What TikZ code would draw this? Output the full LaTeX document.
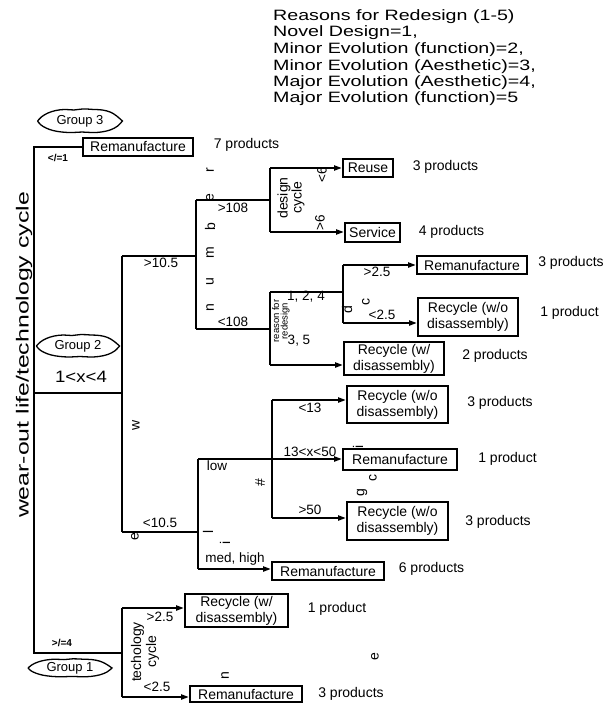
\documentclass[tikz,border=0pt]{standalone}
\usepackage{fontspec}
\setmainfont{Liberation Sans}
\usepackage{graphicx}
\usetikzlibrary{arrows.meta}
\newcommand\fsz[2]{\fontsize{#1}{#2}\selectfont}
\newcommand\wide[1]{\scalebox{1.31}[1]{#1}}
\newcommand\lemon[3]{\draw[line width=1.3pt,shift={(#1)},xscale=#2,yscale=#3]
  plot[smooth,tension=0.6] coordinates {(-42,0) (-38,-4) (-32,-7.5) (-24,-10) (-15,-11) (-6,-10.5) (3,-11.5) (13,-11) (22,-10.5) (30,-8.5) (36,-5) (42,0)}
  -- plot[smooth,tension=0.6] coordinates {(42,0) (37,5) (30,8.5) (21,10.5) (12,11) (2,10.5) (-8,11) (-18,10.5) (-27,9) (-34,6.5) (-39,3.5) (-42,0)};}
\begin{document}
\begin{tikzpicture}[x=1pt,y=-1pt,
  ln/.style={line width=2pt},
  arr/.style={line width=2pt,-{Triangle[length=8pt,width=5pt]}},
  box/.style={draw,line width=1.9pt,inner sep=0pt,font=\fsz{14}{16},align=center},
  lbl/.style={inner sep=0pt,font=\fsz{13.5}{15}},
  cnt/.style={inner sep=0pt,font=\fsz{14}{16}},
  bold/.style={inner sep=0pt,font=\fsz{10}{12}\bfseries},
  letter/.style={inner sep=0pt,rotate=90,font=\fsz{14}{16}},
  leg/.style={inner sep=0pt,anchor=base west,font=\fsz{15}{17}},
  grp/.style={inner sep=0pt,font=\fsz{13}{15},minimum width=84pt,minimum height=22pt}
]
\useasboundingbox (0,0) rectangle (605,704);

% legend
\node[leg] (l1) at (273,20) {\wide{Reasons for Redesign (1-5)}};
\node[leg] (l2) at (273,36) {\wide{Novel Design=1,}};
\node[leg] (l3) at (273,53) {\wide{Minor Evolution (function)=2,}};
\node[leg] (l4) at (273,70) {\wide{Minor Evolution (Aesthetic)=3,}};
\node[leg] (l5) at (273,86) {\wide{Major Evolution (Aesthetic)=4,}};
\node[leg] (l6) at (273,102) {\wide{Major Evolution (function)=5}};

% side label
\node[inner sep=0pt,rotate=90,font=\fsz{17.5}{20}] (side) at (24,355) {\scalebox{1.42}[1]{wear-out life/technology cycle}};

% groups
\node[grp] (g3) at (80,121) {Group 3};
\lemon{g3}{1.01}{1.05}
\node[grp] (g2) at (78,346) {Group 2};
\lemon{g2}{0.99}{1}
\node[grp] (g1) at (70,668) {Group 1};
\lemon{g1}{1}{0.8}
\node[inner sep=0pt,font=\fsz{16.5}{18}] (gx) at (81,377) {\scalebox{1.13}[1]{1<x<4}};

% boxes
\node[box,minimum width=110pt,minimum height=18pt] (rTop) at (138,147) {Remanufacture};
\node[box,minimum width=50pt,minimum height=18pt] (reuse) at (368,168) {Reuse};
\node[box,minimum width=55pt,minimum height=19pt] (service) at (372.5,232.5) {Service};
\node[box,minimum width=110pt,minimum height=18pt] (rem2) at (472,265) {Remanufacture};
\node[box,minimum width=100pt,minimum height=38pt] (recwo1) at (468,317) {Recycle (w/o\\disassembly)};
\node[box,minimum width=100pt,minimum height=33pt] (recw1) at (394,358.5) {Recycle (w/\\disassembly)};
\node[box,minimum width=101pt,minimum height=37pt] (recwo2) at (397.5,404.5) {Recycle (w/o\\disassembly)};
\node[box,minimum width=114pt,minimum height=21pt] (rem3) at (400,459.5) {Remanufacture};
\node[box,minimum width=101pt,minimum height=38pt] (recwo3) at (397.5,521) {Recycle (w/o\\disassembly)};
\node[box,minimum width=112pt,minimum height=18pt] (rem4) at (328,571) {Remanufacture};
\node[box,minimum width=103pt,minimum height=33pt] (recw2) at (236.5,610.5) {Recycle (w/\\disassembly)};
\node[box,minimum width=112pt,minimum height=16pt] (rem5) at (246,694) {Remanufacture};

% counts
\node[cnt] (c1) at (246.5,145) {7 products};
\node[cnt] (c2) at (445.5,167) {3 products};
\node[cnt] (c3) at (451.5,232) {4 products};
\node[cnt] (c4) at (571,263) {3 products};
\node[cnt] (c5) at (569.5,313) {1 product};
\node[cnt] (c6) at (495,356) {2 products};
\node[cnt] (c7) at (500,403) {3 products};
\node[cnt] (c8) at (507.5,459) {1 product};
\node[cnt] (c9) at (498,522) {3 products};
\node[cnt] (c10) at (431.5,569) {6 products};
\node[cnt] (c11) at (337,609) {1 product};
\node[cnt] (c12) at (351,694) {3 products};

% junction coordinates
\coordinate (r1) at (34,147);
\coordinate (r2) at (34,393);
\coordinate (r3) at (34,653);
\coordinate (a1) at (122,256);
\coordinate (a2) at (122,393);
\coordinate (a3) at (122,532);
\coordinate (b2) at (196,200);
\coordinate (b1) at (196,256);
\coordinate (b3) at (196,329);
\coordinate (d2) at (270,168);
\coordinate (d1) at (270,200);
\coordinate (d3) at (270,232);
\coordinate (e2) at (270,292);
\coordinate (e1) at (270,329);
\coordinate (e3) at (270,365);
\coordinate (f2) at (343,265);
\coordinate (f1) at (343,292);
\coordinate (f3) at (343,323);
\coordinate (h0) at (198,459);
\coordinate (h1) at (198,532);
\coordinate (h3) at (198,569);
\coordinate (k1) at (272,400);
\coordinate (k2) at (272,518);
\coordinate (m0) at (122,653);
\coordinate (m1) at (122,608);
\coordinate (m2) at (122,697);

% connectors
\draw[ln] (rTop.west) -- (r1) -- (r3) -- (m0);
\draw[ln] (r2) -- (a2);
\draw[ln] (a1) -- (a3);
\draw[ln] (a1) -- (b1);
\draw[ln] (b2) -- (b3);
\draw[ln] (b2) -- (d1);
\draw[ln] (d2) -- (d3);
\draw[arr] (d2) -- (d2 -| reuse.west);
\draw[arr] (d3) -- (d3 -| service.west);
\draw[ln] (b3) -- (e1);
\draw[ln] (e2) -- (e3);
\draw[ln] (e2) -- (f1);
\draw[ln] (f2) -- (f3);
\draw[arr] (f2) -- (f2 -| rem2.west);
\draw[arr] (f3) -- (f3 -| recwo1.west);
\draw[arr] (e3) -- (e3 -| recw1.west);
\draw[ln] (a3) -- (h1);
\draw[ln] (h0) -- (h3);
\draw[arr] (h0) -- (h0 -| rem3.west);
\draw[arr] (h3) -- (h3 -| rem4.west);
\draw[ln] (k1) -- (k2);
\draw[arr] (k1) -- (k1 -| recwo2.west);
\draw[arr] (k2) -- (k2 -| recwo3.west);
\draw[ln] (m1) -- (m2);
\draw[arr] (m1) -- (m1 -| recw2.west);
\draw[arr] (m2) -- (m2 -| rem5.west);

% branch labels
\node[bold] (t1) at (58,158) {</=1};
\node[bold] (t2) at (62,643) {>/=4};
\node[lbl] (t3) at (161,263) {>10.5};
\node[lbl] (t4) at (160,523) {<10.5};
\node[lbl] (t5) at (233,208) {>108};
\node[lbl] (t6) at (233,322) {<108};
\node[lbl,rotate=90] (t7) at (322,175) {<6};
\node[lbl,rotate=90] (t8) at (320,223) {>6};
\node[inner sep=0pt,rotate=90,align=center,font=\fsz{14}{12.5}] (t9) at (291,198) {design\\cycle};
\node[lbl] (t10) at (377,272) {>2.5};
\node[lbl] (t11) at (382,315) {<2.5};
\node[lbl] (t12) at (306,297) {1, 2, 4};
\node[lbl] (t13) at (299,341) {3, 5};
\node[inner sep=0pt,rotate=90,align=center,font=\fsz{9.5}{8.5}] (t14) at (281,321) {reason for\\redesign};
\node[lbl] (t15) at (310,408) {<13};
\node[lbl] (t16) at (310,452) {13<x<50};
\node[lbl] (t17) at (310,510) {>50};
\node[lbl] (t18) at (217,466) {low};
\node[lbl] (t19) at (235,559) {med, high};
\node[lbl] (t20) at (160,617) {>2.5};
\node[lbl] (t21) at (157,687) {<2.5};
\node[inner sep=0pt,rotate=90,align=center,font=\fsz{14}{15}] (t22) at (145,652) {techology\\cycle};

% scattered letters
\node[letter] (n1) at (210,308) {n};
\node[letter] (n2) at (210,282) {u};
\node[letter] (n3) at (210,253) {m};
\node[letter] (n4) at (210,227) {b};
\node[letter] (n5) at (210,198) {e};
\node[letter] (n6) at (210,170) {r};
\node[letter] (w1) at (136,425) {w};
\node[letter] (w2) at (135,537) {e};
\node[letter] (d4) at (347,310) {d};
\node[letter] (d5) at (366,302) {c};
\node[letter] (i1) at (358,447) {i};
\node[letter] (i2) at (373,478) {c};
\node[letter] (i3) at (362,493) {g};
\node[letter] (i4) at (260,483) {\#};
\node[letter] (i5) at (208,532) {l};
\node[letter] (i6) at (225,543) {i};
\node[letter] (i7) at (225,676) {n};
\node[letter] (i8) at (375,657) {e};
\end{tikzpicture}
\end{document}
